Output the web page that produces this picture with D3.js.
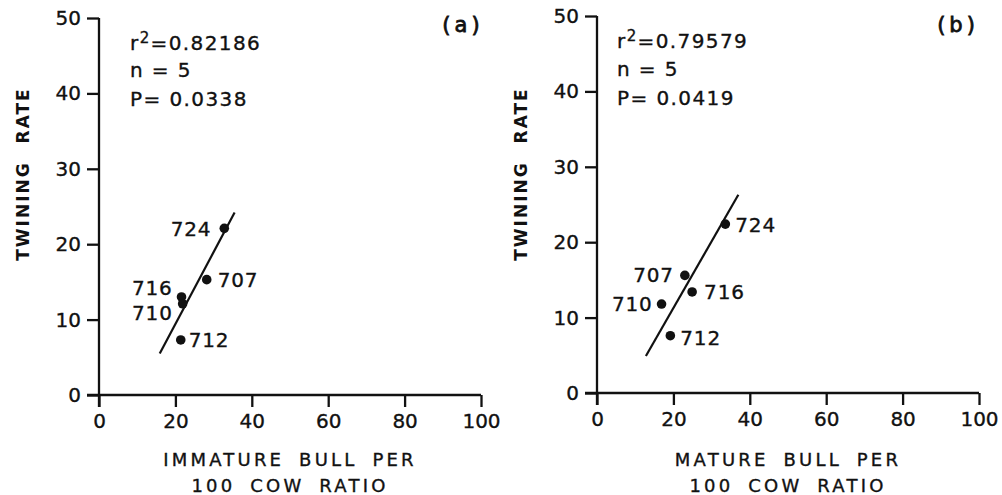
<!DOCTYPE html>
<html>
<head>
<meta charset="utf-8">
<script src="https://cdn.jsdelivr.net/npm/d3@7"></script>
<style>
	body { margin: 0; background: #fff; }
	svg { display: block; }
	text { font-family: "DejaVu Sans", sans-serif; fill: #111; stroke: #111; stroke-width: 0.35px; }
	.axis path, .axis line { stroke: #111; stroke-width: 2.3; }
	.axis text { font-size: 20px; stroke-width: 0.35px; }
	.fit { stroke: #111; stroke-width: 2.2; fill: none; }
	.dot { fill: #111; }
	.pt-label { font-size: 20px; letter-spacing: 0.8px; }
	.stats { font-size: 20px; letter-spacing: 1.4px; }
	.ytitle { font-size: 17px; font-weight: bold; letter-spacing: 2px; word-spacing: 10px; stroke-width: 0; }
	.xtitle { font-size: 18px; letter-spacing: 3.2px; word-spacing: 6px; }
	.tag { font-size: 21px; letter-spacing: 4px; stroke-width: 0.8px; }
</style>
</head>
<body>
<svg id="chart" width="1002" height="495"></svg>
<script>
var xTicks = [0, 20, 40, 60, 80, 100];
var yTicks = [0, 10, 20, 30, 40, 50];

// (a) immature bulls
var herdsA = ["724", "707", "716", "710", "712"];
var immatureRatio = [32.8, 28.2, 21.6, 21.9, 21.4];
var twinRateA = [22.1, 15.3, 13.0, 12.1, 7.3];
var fitAx = [15.9, 35.5];
var fitAy = [5.5, 24.2];
var statsA = ["0.82186", "5", "0.0338"];

// (b) mature bulls
var herdsB = ["724", "707", "716", "710", "712"];
var matureRatio = [33.6, 23.0, 24.9, 16.9, 19.2];
var twinRateB = [22.4, 15.6, 13.4, 11.8, 7.6];
var fitBx = [12.8, 37.0];
var fitBy = [4.9, 26.3];
var statsB = ["0.79579", "5", "0.0419"];

var svg = d3.select("#chart");

function drawPanel(cfg) {
	var x = d3.scaleLinear().domain([0, 100]).range([cfg.left, cfg.right]);
	var y = d3.scaleLinear().domain([0, 50]).range([cfg.bottom, cfg.top]);
	var g = svg.append("g");

	g.append("g")
		.attr("class", "axis")
		.attr("transform", "translate(0," + cfg.bottom + ")")
		.call(d3.axisBottom(x).tickValues(xTicks).tickSize(12).tickSizeOuter(0).tickPadding(7))
		.call(function(a) { a.select(".domain").attr("d", "M" + (cfg.left - 12) + ",0H" + cfg.right); });

	g.append("g")
		.attr("class", "axis")
		.attr("transform", "translate(" + cfg.left + ",0)")
		.call(d3.axisLeft(y).tickValues(yTicks).tickSize(12).tickSizeOuter(0).tickPadding(6))
		.call(function(a) { a.select(".domain").attr("d", "M0," + cfg.top + "V" + (cfg.bottom + 12)); });

	g.selectAll(".axis text").attr("fill", "#111");

	g.append("line")
		.attr("class", "fit")
		.attr("x1", x(cfg.fitX[0])).attr("y1", y(cfg.fitY[0]))
		.attr("x2", x(cfg.fitX[1])).attr("y2", y(cfg.fitY[1]));

	var pts = cfg.herds.map(function(h, i) {
		return {herd: h, x: cfg.xs[i], y: cfg.ys[i], place: cfg.place[i]};
	});

	g.selectAll(".dot")
		.data(pts)
		.enter().append("circle")
		.attr("class", "dot")
		.attr("cx", function(d) { return x(d.x); })
		.attr("cy", function(d) { return y(d.y); })
		.attr("r", 4.8);

	g.selectAll(".pt-label")
		.data(pts)
		.enter().append("text")
		.attr("class", "pt-label")
		.attr("x", function(d) { return x(d.x) + d.place[0]; })
		.attr("y", function(d) { return y(d.y) + d.place[1]; })
		.attr("text-anchor", function(d) { return d.place[2]; })
		.text(function(d) { return d.herd; });

	var st = g.append("text").attr("class", "stats").attr("x", cfg.statsX).attr("y", cfg.statsY[0]);
	st.append("tspan").text("r");
	st.append("tspan").attr("dy", -7).attr("font-size", "15px").text("2");
	st.append("tspan").attr("dy", 7).text("=" + cfg.stats[0]);
	g.append("text").attr("class", "stats").attr("x", cfg.statsX).attr("y", cfg.statsY[1])
		.text("n = " + cfg.stats[1]);
	g.append("text").attr("class", "stats").attr("x", cfg.statsX).attr("y", cfg.statsY[2])
		.text("P= " + cfg.stats[2]);

	g.append("text")
		.attr("class", "tag")
		.attr("x", cfg.tag[1]).attr("y", 32)
		.attr("text-anchor", "middle")
		.text(cfg.tag[0]);

	g.append("text")
		.attr("class", "ytitle")
		.attr("transform", "translate(" + (cfg.left - 70) + ",174) rotate(-90)")
		.attr("text-anchor", "middle")
		.text("TWINING RATE");

	var xt = g.append("text")
		.attr("class", "xtitle")
		.attr("text-anchor", "middle");
	xt.append("tspan").attr("x", (cfg.left + cfg.right) / 2).attr("y", 466).text(cfg.xTitle);
	xt.append("tspan").attr("x", (cfg.left + cfg.right) / 2).attr("y", 492).text("100 COW RATIO");
}

drawPanel({
	left: 99, right: 481, top: 18, bottom: 395,
	herds: herdsA, xs: immatureRatio, ys: twinRateA,
	fitX: fitAx, fitY: fitAy, stats: statsA,
	statsX: 130, statsY: [50, 77, 106],
	place: [[-13, 8, "end"], [11, 7, "start"], [-9, -2, "end"], [-10, 16, "end"], [8, 7, "start"]],
	tag: ["(a)", 463],
	xTitle: "IMMATURE BULL PER"
});

drawPanel({
	left: 597, right: 979, top: 16, bottom: 393,
	herds: herdsB, xs: matureRatio, ys: twinRateB,
	fitX: fitBx, fitY: fitBy, stats: statsB,
	statsX: 617, statsY: [48, 76, 105],
	place: [[10, 8, "start"], [-11, 7, "end"], [12, 7, "start"], [-9, 7, "end"], [10, 9, "start"]],
	tag: ["(b)", 958],
	xTitle: "MATURE BULL PER"
});
</script>
</body>
</html>
